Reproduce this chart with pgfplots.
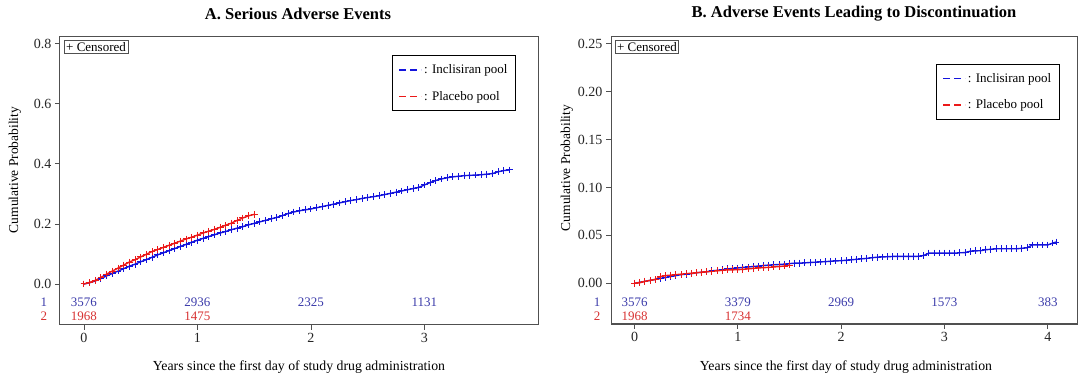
\documentclass[border=0pt]{standalone}
\usepackage{fontspec}
\setmainfont{Liberation Serif}
\usepackage{pgfplots}
\pgfplotsset{compat=1.18}
\usepackage{pgfplotstable}
\definecolor{cblue}{RGB}{20,20,220}
\definecolor{cred}{RGB}{235,25,25}
\definecolor{tblue}{RGB}{60,60,170}
\definecolor{tred}{RGB}{215,50,50}
\definecolor{framegray}{RGB}{80,80,80}

\pgfplotstableread{
x y
0 0
0.05 0.004
0.10 0.010
0.15 0.018
0.20 0.027
0.25 0.035
0.30 0.043
0.35 0.051
0.40 0.059
0.45 0.066
0.50 0.074
0.55 0.081
0.60 0.089
0.65 0.097
0.70 0.104
0.75 0.111
0.80 0.118
0.85 0.125
0.90 0.132
0.95 0.139
1.00 0.146
1.05 0.152
1.10 0.158
1.15 0.164
1.20 0.170
1.25 0.175
1.30 0.181
1.35 0.186
1.40 0.191
1.45 0.197
1.50 0.202
1.55 0.207
1.60 0.212
1.65 0.217
1.70 0.222
1.75 0.228
1.80 0.235
1.85 0.240
1.90 0.244
1.95 0.247
2.00 0.250
2.05 0.254
2.10 0.258
2.15 0.262
2.20 0.266
2.25 0.270
2.30 0.274
2.35 0.278
2.40 0.281
2.45 0.285
2.50 0.288
2.55 0.291
2.60 0.294
2.65 0.298
2.70 0.302
2.75 0.306
2.80 0.310
2.85 0.314
2.90 0.318
2.95 0.322
3.00 0.330
3.05 0.338
3.10 0.345
3.15 0.350
3.20 0.354
3.25 0.357
3.30 0.359
3.35 0.361
3.40 0.362
3.45 0.363
3.50 0.364
3.55 0.366
3.60 0.368
3.65 0.374
3.70 0.378
3.75 0.380
}\saeBlue

\pgfplotstableread{
x y
0 0
0.05 0.005
0.10 0.012
0.15 0.022
0.20 0.033
0.25 0.043
0.30 0.053
0.35 0.063
0.40 0.073
0.45 0.081
0.50 0.090
0.55 0.099
0.60 0.108
0.65 0.115
0.70 0.122
0.75 0.129
0.80 0.136
0.85 0.143
0.90 0.150
0.95 0.156
1.00 0.163
1.05 0.170
1.10 0.176
1.15 0.182
1.20 0.189
1.25 0.196
1.30 0.203
1.35 0.212
1.40 0.220
1.45 0.227
1.50 0.232
}\saeRed

\pgfplotstableread{
x y
0 0
0.05 0.001
0.10 0.002
0.15 0.003
0.20 0.004
0.25 0.005
0.30 0.006
0.35 0.007
0.40 0.008
0.45 0.009
0.50 0.0095
0.55 0.010
0.60 0.011
0.65 0.0115
0.70 0.012
0.75 0.013
0.80 0.0135
0.85 0.014
0.90 0.015
0.95 0.0155
1.00 0.016
1.05 0.0165
1.10 0.017
1.15 0.0175
1.20 0.018
1.25 0.0185
1.30 0.019
1.35 0.0193
1.40 0.0196
1.45 0.020
1.50 0.0205
1.55 0.021
1.60 0.021
1.65 0.0213
1.70 0.0217
1.75 0.022
1.80 0.0223
1.85 0.0226
1.90 0.023
1.95 0.0233
2.00 0.0236
2.05 0.024
2.10 0.0245
2.15 0.025
2.20 0.0255
2.25 0.026
2.30 0.0267
2.35 0.0272
2.40 0.0275
2.45 0.0277
2.50 0.028
2.55 0.028
2.60 0.028
2.65 0.028
2.70 0.028
2.75 0.0282
2.80 0.029
2.85 0.0315
2.90 0.0315
2.95 0.0315
3.00 0.0315
3.05 0.0315
3.10 0.0315
3.15 0.0318
3.20 0.032
3.25 0.0335
3.30 0.0338
3.35 0.034
3.40 0.035
3.45 0.0355
3.50 0.036
3.55 0.036
3.60 0.036
3.65 0.036
3.70 0.036
3.75 0.0365
3.80 0.037
3.85 0.040
3.90 0.040
3.95 0.040
4.00 0.040
4.05 0.042
4.08 0.043
}\disBlue

\pgfplotstableread{
x y
0 0
0.05 0.0005
0.10 0.002
0.15 0.003
0.20 0.004
0.25 0.007
0.30 0.008
0.35 0.0085
0.40 0.009
0.45 0.0095
0.50 0.010
0.55 0.0105
0.60 0.011
0.65 0.0115
0.70 0.012
0.75 0.0125
0.80 0.013
0.85 0.0135
0.90 0.014
0.95 0.014
1.00 0.0142
1.05 0.0145
1.10 0.015
1.15 0.0155
1.20 0.016
1.25 0.0163
1.30 0.0166
1.35 0.017
1.40 0.0175
1.45 0.018
1.50 0.019
}\disRed

\pgfplotsset{
  kmstyle/.style={
    scale only axis,
    axis line style={framegray, line width=1pt},
    tick style={framegray, line width=0.9pt},
    major tick length=5pt,
    tick align=outside,
    xtick pos=bottom, ytick pos=left,
    clip=false,
    tick label style={font=\fontsize{14}{16}\selectfont, text=black!85},
    /pgf/number format/assume math mode=true,
    legend cell align=left,
    legend style={draw=black, line width=0.9pt, font=\fontsize{13}{15}\selectfont,
      inner xsep=6pt, inner ysep=7pt, row sep=12pt},
    legend image code/.code={\draw[#1] (0pt,0pt) -- (22pt,0pt);},
  },
  curve/.style={line width=1.4pt, mark=+, mark size=3.4pt, mark options={solid, line width=1pt}},
  legdash/.style={line width=1.6pt, dash pattern=on 7pt off 4pt},
}

\begin{document}
\begin{tikzpicture}
\useasboundingbox (0,0) rectangle (1080pt,378pt);

% ---- Panel A ----
\begin{axis}[kmstyle,
  at={(60pt,53pt)}, anchor=south west,
  width=478pt, height=288pt,
  xmin=-0.211, xmax=4.0, ymin=-0.1367, ymax=0.823,
  xtick={0,1,2,3}, ytick={0,0.2,0.4,0.6,0.8},
  yticklabel style={/pgf/number format/.cd, fixed, fixed zerofill, precision=1},
  legend style={at={(0.954,0.937)}, anchor=north east},
]
\addlegendimage{cblue, legdash}
\addlegendentry{: Inclisiran pool}
\addlegendimage{cred, legdash}
\addlegendentry{: Placebo pool}
\addplot[cblue, curve] table[x=x,y=y] {\saeBlue};
\addplot[cred, curve] table[x=x,y=y] {\saeRed};
\node[draw=framegray, line width=0.8pt, anchor=north west, inner sep=2pt, font=\fontsize{13}{15}\selectfont]
  at (rel axis cs:0.008,0.99) {+ Censored};
\begin{scope}[every node/.style={font=\fontsize{13}{15}\selectfont}]
\node[text=tblue] at (axis cs:-0.352,-0.06) {1};
\node[text=tred] at (axis cs:-0.352,-0.107) {2};
\node[text=tblue] at (axis cs:0,-0.06) {3576};
\node[text=tblue] at (axis cs:1,-0.06) {2936};
\node[text=tblue] at (axis cs:2,-0.06) {2325};
\node[text=tblue] at (axis cs:3,-0.06) {1131};
\node[text=tred] at (axis cs:0,-0.107) {1968};
\node[text=tred] at (axis cs:1,-0.107) {1475};
\end{scope}
\end{axis}

% ---- Panel B ----
\begin{axis}[kmstyle,
  at={(611pt,54pt)}, anchor=south west,
  width=466pt, height=287pt,
  xmin=-0.2275, xmax=4.283, ymin=-0.0425, ymax=0.257,
  xtick={0,1,2,3,4}, ytick={0,0.05,0.10,0.15,0.20,0.25},
  yticklabel style={/pgf/number format/.cd, fixed, fixed zerofill, precision=2},
  legend style={at={(0.963,0.906)}, anchor=north east},
]
\addlegendimage{cblue, legdash}
\addlegendentry{: Inclisiran pool}
\addlegendimage{cred, legdash}
\addlegendentry{: Placebo pool}
\addplot[cblue, curve] table[x=x,y=y] {\disBlue};
\addplot[cred, curve] table[x=x,y=y] {\disRed};
\node[draw=framegray, line width=0.8pt, anchor=north west, inner sep=2pt, font=\fontsize{13}{15}\selectfont]
  at (rel axis cs:0.008,0.99) {+ Censored};
\begin{scope}[every node/.style={font=\fontsize{13}{15}\selectfont}]
\node[text=tblue] at (axis cs:-0.363,-0.0195) {1};
\node[text=tred] at (axis cs:-0.363,-0.0347) {2};
\node[text=tblue] at (axis cs:0,-0.0195) {3576};
\node[text=tblue] at (axis cs:1,-0.0195) {3379};
\node[text=tblue] at (axis cs:2,-0.0195) {2969};
\node[text=tblue] at (axis cs:3,-0.0195) {1573};
\node[text=tblue] at (axis cs:4,-0.0195) {383};
\node[text=tred] at (axis cs:0,-0.0347) {1968};
\node[text=tred] at (axis cs:1,-0.0347) {1734};
\end{scope}
\end{axis}

% ---- titles and labels ----
\node[font=\fontsize{16.5}{18}\selectfont\bfseries] at (298pt,364pt) {A. Serious Adverse Events};
\node[font=\fontsize{16.5}{18}\selectfont\bfseries] at (854pt,364pt) {B. Adverse Events Leading to Discontinuation};
\node[font=\fontsize{13.5}{15}\selectfont, rotate=90] at (15pt,208pt) {Cumulative Probability};
\node[font=\fontsize{13.5}{15}\selectfont, rotate=90] at (567pt,210pt) {Cumulative Probability};
\node[font=\fontsize{13.8}{15}\selectfont] at (299pt,11pt) {Years since the first day of study drug administration};
\node[font=\fontsize{13.8}{15}\selectfont] at (846pt,11pt) {Years since the first day of study drug administration};
\end{tikzpicture}
\end{document}
